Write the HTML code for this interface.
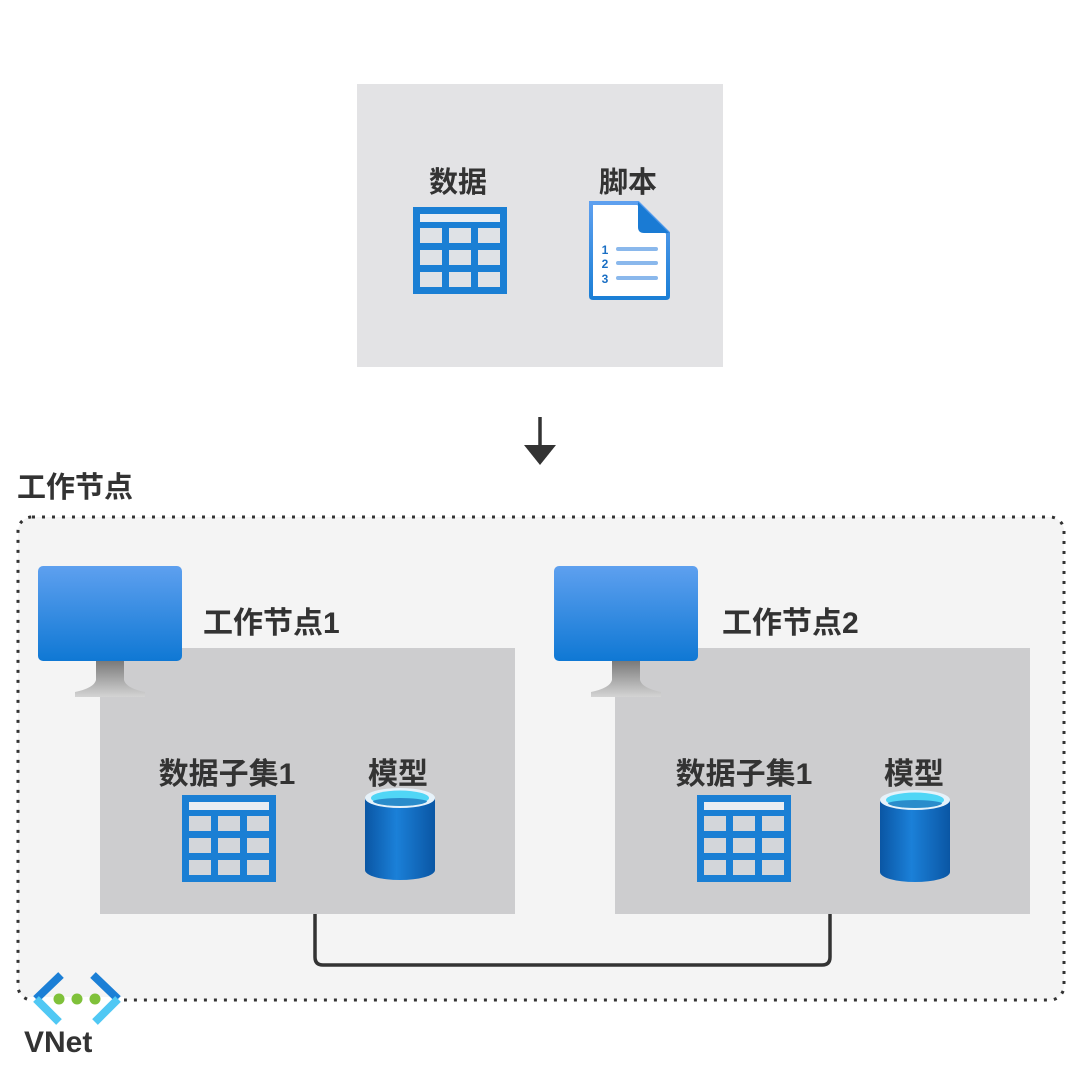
<!DOCTYPE html>
<html>
<head>
<meta charset="utf-8">
<style>
  html,body{margin:0;padding:0;background:#fff;}
  svg{display:block;}
  text{font-family:"Liberation Sans","Noto Sans CJK SC",sans-serif;font-weight:bold;fill:#333;}
</style>
</head>
<body>
<svg width="1080" height="1080" viewBox="0 0 1080 1080" xmlns="http://www.w3.org/2000/svg">
  <defs>
    <linearGradient id="scr" x1="0" y1="0" x2="0" y2="1">
      <stop offset="0" stop-color="#5ea0ef"/>
      <stop offset="1" stop-color="#0f78d4"/>
    </linearGradient>
    <linearGradient id="stand" x1="0" y1="0" x2="0" y2="1">
      <stop offset="0" stop-color="#7a7a7a"/>
      <stop offset="1" stop-color="#d4d4d4"/>
    </linearGradient>
    <linearGradient id="cyl" x1="0" y1="0" x2="1" y2="0">
      <stop offset="0" stop-color="#0a56a4"/>
      <stop offset="0.45" stop-color="#1b80d8"/>
      <stop offset="1" stop-color="#0a56a4"/>
    </linearGradient>
    <linearGradient id="doc" x1="0" y1="0" x2="0" y2="1">
      <stop offset="0" stop-color="#5ea0ef"/>
      <stop offset="1" stop-color="#1b7fd6"/>
    </linearGradient>
    <g id="table">
      <rect x="0" y="0" width="94" height="87" fill="#1a7fd4"/>
      <rect x="7" y="7" width="80" height="8" fill="#e8edf2"/>
      <g>
        <rect x="7" y="21" width="22" height="15"/><rect x="36" y="21" width="22" height="15"/><rect x="65" y="21" width="22" height="15"/>
        <rect x="7" y="43" width="22" height="15"/><rect x="36" y="43" width="22" height="15"/><rect x="65" y="43" width="22" height="15"/>
        <rect x="7" y="65" width="22" height="15"/><rect x="36" y="65" width="22" height="15"/><rect x="65" y="65" width="22" height="15"/>
      </g>
    </g>
    <g id="cylinder">
      <path d="M0,8 L0,80 A35,10 0 0 0 70,80 L70,8 Z" fill="url(#cyl)"/>
      <ellipse cx="35" cy="8" rx="35" ry="10" fill="#e6f2fa"/>
      <ellipse cx="35" cy="8" rx="29" ry="7.5" fill="#50d6f6"/>
      <path d="M8,11 A27,5 0 0 0 62,11 A28,4 0 0 0 8,11 Z" fill="#2a8ccb"/>
    </g>
    <g id="monitor">
      <path d="M58,0 L86,0 L86,19 Q88,27 107,31 L107,36 L37,36 L37,31 Q56,27 58,19 Z" fill="url(#stand)" transform="translate(0,95)"/>
      <rect x="0" y="0" width="144" height="95" rx="5" fill="url(#scr)"/>
    </g>
  </defs>

  <!-- top box -->
  <rect x="357" y="84" width="366" height="283" fill="#e3e3e5"/>
  <text x="458" y="192" font-size="29" text-anchor="middle">数据</text>
  <text x="628" y="192" font-size="29" text-anchor="middle">脚本</text>
  <use href="#table" x="413" y="207" fill="#dfe2e6"/>

  <!-- doc icon -->
  <path d="M591,203 L638,203 L668,233 L668,296 Q668,298 666,298 L593,298 Q591,298 591,296 Z" fill="#fff" stroke="url(#doc)" stroke-width="4"/>
  <path d="M638,202 L669,233 L644,233 Q638,233 638,227 Z" fill="#1a7bd4"/>
  <g stroke="#8ab8ec" stroke-width="4" stroke-linecap="round">
    <line x1="618" y1="249" x2="656" y2="249"/>
    <line x1="618" y1="263" x2="656" y2="263"/>
    <line x1="618" y1="278" x2="656" y2="278"/>
  </g>
  <text x="605" y="254" font-size="12" text-anchor="middle" style="fill:#1a6fc4">1</text>
  <text x="605" y="268" font-size="12" text-anchor="middle" style="fill:#1a6fc4">2</text>
  <text x="605" y="283" font-size="12" text-anchor="middle" style="fill:#1a6fc4">3</text>

  <!-- arrow -->
  <line x1="540" y1="417" x2="540" y2="448" stroke="#333" stroke-width="3.5"/>
  <polygon points="524,445 556,445 540,465" fill="#333"/>

  <!-- outer label -->
  <text x="17" y="497" font-size="29">工作节点</text>

  <!-- dotted box -->
  <rect x="18" y="517" width="1046" height="483" rx="14" fill="#f4f4f4" stroke="#333" stroke-width="3" stroke-dasharray="3 7"/>

  <!-- gray boxes -->
  <rect x="100" y="648" width="415" height="266" fill="#cdcdcf"/>
  <rect x="615" y="648" width="415" height="266" fill="#cdcdcf"/>

  <!-- monitors -->
  <use href="#monitor" x="38" y="566"/>
  <use href="#monitor" x="554" y="566"/>

  <text x="203" y="633" font-size="30">工作节点1</text>
  <text x="722" y="633" font-size="30">工作节点2</text>

  <!-- node 1 contents -->
  <text x="227" y="784" font-size="30" text-anchor="middle">数据子集1</text>
  <text x="398" y="784" font-size="30" text-anchor="middle">模型</text>
  <use href="#table" x="182" y="795" fill="#d3d6da"/>
  <use href="#cylinder" x="365" y="790"/>

  <!-- node 2 contents -->
  <text x="744" y="784" font-size="30" text-anchor="middle">数据子集1</text>
  <text x="914" y="784" font-size="30" text-anchor="middle">模型</text>
  <use href="#table" x="697" y="795" fill="#d3d6da"/>
  <use href="#cylinder" x="880" y="792"/>

  <!-- connector -->
  <path d="M315,914 L315,957 Q315,965 323,965 L822,965 Q830,965 830,957 L830,914" fill="none" stroke="#333" stroke-width="3.5"/>

  <!-- VNet icon -->
  <rect x="28" y="997" width="96" height="6" fill="#fff"/>
  <g stroke-width="8" stroke-linecap="butt" fill="none">
    <line x1="61" y1="975" x2="36" y2="999" stroke="#1b7fd6"/>
    <line x1="36" y1="999" x2="59" y2="1022" stroke="#50c8f4"/>
    <line x1="93" y1="975" x2="118" y2="999" stroke="#1b7fd6"/>
    <line x1="118" y1="999" x2="95" y2="1022" stroke="#50c8f4"/>
  </g>
  <circle cx="59" cy="999" r="5.5" fill="#7fc13a"/>
  <circle cx="77" cy="999" r="5.5" fill="#7fc13a"/>
  <circle cx="95" cy="999" r="5.5" fill="#7fc13a"/>
  <text x="24" y="1052" font-size="30">VNet</text>
</svg>
</body>
</html>
